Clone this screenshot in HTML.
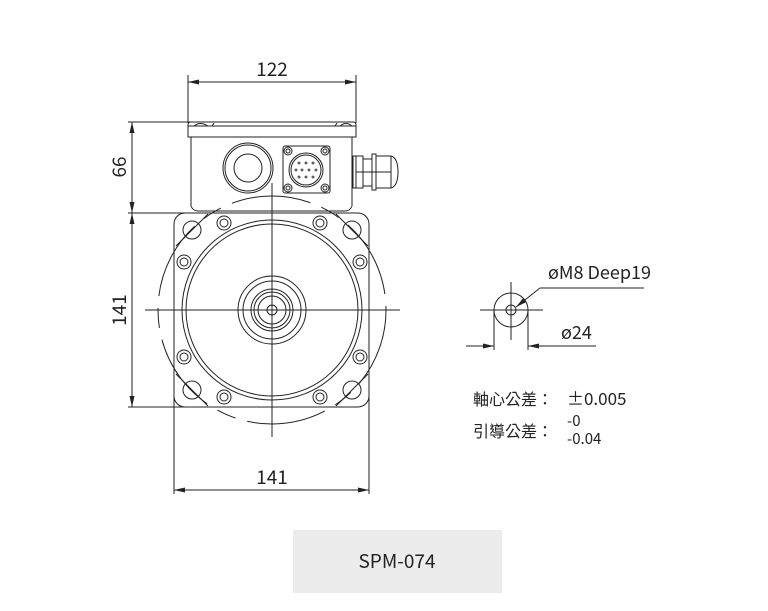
<!DOCTYPE html>
<html><head><meta charset="utf-8"><style>
html,body{margin:0;padding:0;background:#fff;}
svg{display:block;}
text{font-family:"Noto Sans CJK TC","Liberation Sans",sans-serif;fill:#222;}
</style></head><body>
<svg width="768" height="611" viewBox="0 0 768 611" xmlns="http://www.w3.org/2000/svg">
<defs>
<marker id="a" markerWidth="11" markerHeight="5" refX="11" refY="2.5" orient="auto-start-reverse" markerUnits="userSpaceOnUse"><path d="M0,0 L11,2.5 L0,5 Z" fill="#222"/></marker>
</defs>
<g fill="none" stroke="#222" stroke-width="1">
<line x1="188" y1="75" x2="188" y2="123"/>
<line x1="356" y1="75" x2="356" y2="123"/>
<line x1="188" y1="82" x2="356" y2="82" marker-start="url(#a)" marker-end="url(#a)"/>
<line x1="128" y1="122" x2="200" y2="122"/>
<line x1="132" y1="122" x2="132" y2="213" marker-start="url(#a)" marker-end="url(#a)"/>
<line x1="128" y1="213" x2="190" y2="213"/>
<line x1="128" y1="407" x2="190" y2="407"/>
<line x1="132" y1="213" x2="132" y2="407" marker-start="url(#a)" marker-end="url(#a)"/>
<line x1="174" y1="395" x2="174" y2="494"/>
<line x1="369" y1="395" x2="369" y2="494"/>
<line x1="174" y1="490" x2="369" y2="490" marker-start="url(#a)" marker-end="url(#a)"/>
<path d="M188,137 L188,125 Q188,122 191,122 L353,122 Q356,122 356,125 L356,137 Z"/>
<line x1="188" y1="126" x2="356" y2="126"/>
<path d="M194,126 Q200,121 208,126 M212,126 L214,123 M335,126 L337,123 M340,126 Q346,121 352,126"/>
<path d="M191,137 L191,206 Q193,211 198,211 L345,211 Q350,211 352,206 L352,137"/>
<circle cx="248" cy="168" r="25"/>
<circle cx="248" cy="168" r="23"/>
<circle cx="248" cy="168" r="14"/>
<rect x="283" y="146" width="47" height="47" rx="2"/>
<circle cx="306" cy="170" r="17"/>
<circle cx="306" cy="170" r="15"/>
<circle cx="288" cy="151" r="4"/><circle cx="288" cy="151" r="2"/>
<circle cx="325" cy="151" r="4"/><circle cx="325" cy="151" r="2"/>
<circle cx="288" cy="188" r="4"/><circle cx="288" cy="188" r="2"/>
<circle cx="325" cy="188" r="4"/><circle cx="325" cy="188" r="2"/>
<g stroke-width="0.8">
<circle cx="299" cy="163" r="1"/><circle cx="306" cy="163" r="1"/><circle cx="313" cy="163" r="1"/>
<circle cx="296" cy="170" r="1"/><circle cx="302" cy="170" r="1"/><circle cx="309" cy="170" r="1"/><circle cx="316" cy="170" r="1"/>
<circle cx="299" cy="177" r="1"/><circle cx="306" cy="177" r="1"/><circle cx="313" cy="177" r="1"/>
</g>
<rect x="353" y="156" width="10" height="32"/>
<line x1="356" y1="156" x2="356" y2="188"/>
<rect x="363" y="159" width="9" height="27"/>
<rect x="372" y="154" width="4" height="36"/>
<path d="M376,156 L391,156 Q398,158 398,172 Q398,186 391,188 L376,188 Z"/>
<line x1="356" y1="172" x2="391" y2="172"/>
<line x1="391" y1="156" x2="391" y2="188"/>
<rect x="174" y="213" width="195" height="194" rx="11"/>
<circle cx="272" cy="310" r="90"/>
<circle cx="272" cy="310" r="86"/>
<circle cx="272" cy="310" r="114" stroke-dasharray="80,12,20,12"/>
<circle cx="272" cy="310" r="34"/>
<circle cx="272" cy="310" r="29"/>
<circle cx="272" cy="310" r="21"/>
<circle cx="272" cy="310" r="18"/>
<circle cx="272" cy="310" r="14"/>
<circle cx="272" cy="310" r="5"/>
<circle cx="192" cy="230" r="9"/><circle cx="352" cy="230" r="9"/>
<circle cx="192" cy="390" r="9"/><circle cx="352" cy="390" r="9"/>
<line x1="176" y1="246" x2="208" y2="214"/><line x1="336" y1="214" x2="368" y2="246"/>
<line x1="176" y1="374" x2="208" y2="406"/><line x1="336" y1="406" x2="368" y2="374"/>
<circle cx="224" cy="223" r="7"/><circle cx="224" cy="223" r="4"/>
<circle cx="320" cy="223" r="7"/><circle cx="320" cy="223" r="4"/>
<circle cx="224" cy="397" r="7"/><circle cx="224" cy="397" r="4"/>
<circle cx="320" cy="397" r="7"/><circle cx="320" cy="397" r="4"/>
<circle cx="184" cy="262" r="7"/><circle cx="184" cy="262" r="4"/>
<circle cx="360" cy="262" r="7"/><circle cx="360" cy="262" r="4"/>
<circle cx="184" cy="357" r="7"/><circle cx="184" cy="357" r="4"/>
<circle cx="360" cy="357" r="7"/><circle cx="360" cy="357" r="4"/>
<line x1="145" y1="310" x2="400" y2="310"/>
<line x1="272" y1="183" x2="272" y2="437"/>
<circle cx="511" cy="310" r="17"/>
<circle cx="511" cy="310" r="5"/>
<line x1="480" y1="310" x2="543" y2="310"/>
<line x1="511" y1="282" x2="511" y2="340"/>
<line x1="494" y1="310" x2="494" y2="350"/>
<line x1="528" y1="310" x2="528" y2="350"/>
<line x1="466" y1="346" x2="494" y2="346" marker-end="url(#a)"/>
<line x1="596" y1="346" x2="528" y2="346" marker-end="url(#a)"/>
<line x1="644" y1="288" x2="540" y2="288"/>
<line x1="540" y1="288" x2="516" y2="307" marker-end="url(#a)"/>
</g>
<text x="272" y="76" font-size="19" text-anchor="middle">122</text>
<text x="272" y="484" font-size="19" text-anchor="middle">141</text>
<text transform="translate(126,167) rotate(-90)" font-size="19" text-anchor="middle">66</text>
<text transform="translate(126,310) rotate(-90)" font-size="19" text-anchor="middle">141</text>
<text x="548" y="279" font-size="18">øM8 Deep19</text>
<text x="561" y="339" font-size="18">ø24</text>
<text x="473" y="405" font-size="16">軸心公差：</text>
<text x="567" y="405" font-size="17">±0.005</text>
<text x="473" y="437" font-size="16">引導公差：</text>
<text x="567" y="426" font-size="15">-0</text>
<text x="567" y="444" font-size="15">-0.04</text>
<rect x="293" y="530" width="209" height="63" fill="#ececec"/>
<text x="397" y="568" font-size="19" text-anchor="middle" fill="#333">SPM-074</text>
</svg>
</body></html>
